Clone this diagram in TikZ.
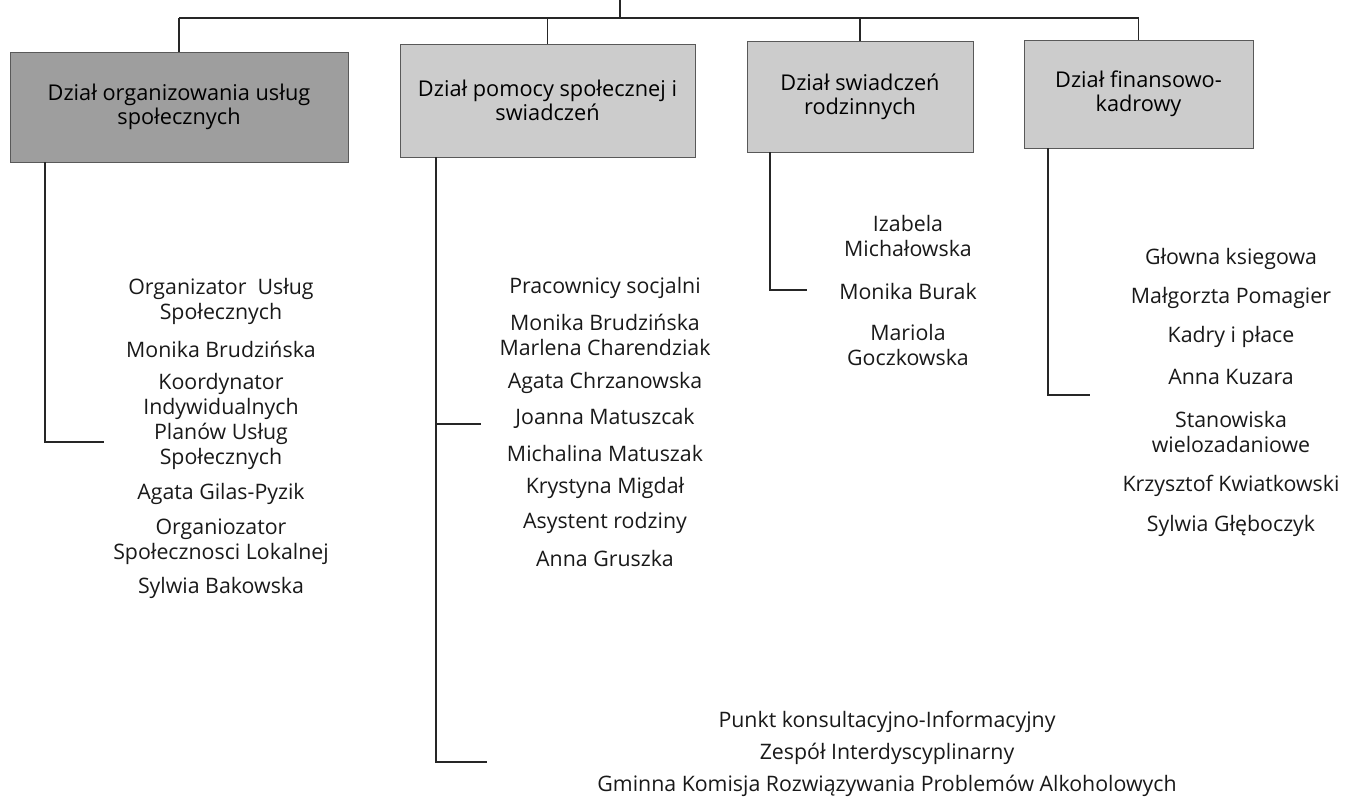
\documentclass[tikz,border=0pt]{standalone}
\usepackage{fontspec}
\setmainfont{Open Sans}
\newdimen\pxu \pxu=0.75pt
\begin{document}
\begin{tikzpicture}[x=0.75pt,y=-0.75pt,
  conn/.style={line width=1.1pt, draw=black!85},
  dept/.style={draw=black!65, line width=0.5pt, align=center, inner sep=0pt,
    font=\fontsize{16.3}{18}\selectfont, text=black},
  item/.style={align=center, inner sep=0pt,
    font=\fontsize{16}{18.75}\selectfont, text=black!90}]
\useasboundingbox (0,0) rectangle (1346,801);
% department boxes
\node[dept, fill=black!38, minimum width=338\pxu, minimum height=110\pxu] (b1) at (179,107) {Dział organizowania usług\\społecznych};
\node[dept, fill=black!20, minimum width=295\pxu, minimum height=113\pxu] (b2) at (547.5,100.5) {Dział pomocy społecznej i\\swiadczeń};
\node[dept, fill=black!20, minimum width=226\pxu, minimum height=111\pxu] (b3) at (860,96.5) {Dział swiadczeń\\rodzinnych};
\node[dept, fill=black!20, minimum width=229\pxu, minimum height=108\pxu] (b4) at (1138.5,94) {Dział finansowo-\\kadrowy};
% top connectors
\coordinate (t0) at (620,0);
\coordinate (t1) at (620,18);
\draw[conn] (t0) -- (t1);
\draw[conn] (b1.north |- t1) -- (b4.north |- t1);
\foreach \b in {b1,b2,b3,b4} \draw[conn] (\b.north |- t1) -- (\b.north);
% column connectors
\coordinate (c1) at (45,442); \coordinate (e1) at (104,442);
\draw[conn] (b1.south -| c1) -- (c1) -- (e1);
\coordinate (c2a) at (436,424); \coordinate (e2a) at (481,424);
\coordinate (c2b) at (436,762); \coordinate (e2b) at (487,762);
\draw[conn] (b2.south -| c2b) -- (c2b) -- (e2b);
\draw[conn] (c2a) -- (e2a);
\coordinate (c3) at (770,290); \coordinate (e3) at (807,290);
\draw[conn] (b3.south -| c3) -- (c3) -- (e3);
\coordinate (c4) at (1048,395); \coordinate (e4) at (1090,395);
\draw[conn] (b4.south -| c4) -- (c4) -- (e4);
% column 1
\node[item] (i11) at (221,301) {Organizator\ \ Usług\\Społecznych};
\node[item] (i12) at (221,349) {Monika Brudzińska};
\node[item] (i13) at (221,421) {Koordynator\\Indywidualnych\\Planów Usług\\Społecznych};
\node[item] (i14) at (221,494) {Agata Gilas-Pyzik};
\node[item] (i15) at (221,541.5) {Organiozator\\Społecznosci Lokalnej};
\node[item] (i16) at (221,588) {Sylwia Bakowska};
% column 2
\node[item] (i21) at (605,288) {Pracownicy socjalni};
\node[item] (i22) at (605,335) {Monika Brudzińska\\Marlena Charendziak};
\node[item] (i23) at (605,383) {Agata Chrzanowska};
\node[item] (i24) at (605,418) {Joanna Matuszcak};
\node[item] (i25) at (605,453) {Michalina Matuszak};
\node[item] (i26) at (605,488) {Krystyna Migdał};
\node[item] (i27) at (605,523) {Asystent rodziny};
\node[item] (i28) at (605,558) {Anna Gruszka};
% column 3
\node[item] (i31) at (908,236) {Izabela\\Michałowska};
\node[item] (i32) at (908,291) {Monika Burak};
\node[item] (i33) at (908,345) {Mariola\\Goczkowska};
% column 4
\node[item] (i41) at (1231,259) {Głowna ksiegowa};
\node[item] (i42) at (1231,298) {Małgorzta Pomagier};
\node[item] (i43) at (1231,337) {Kadry i płace};
\node[item] (i44) at (1231,377) {Anna Kuzara};
\node[item] (i45) at (1231,431.5) {Stanowiska\\wielozadaniowe};
\node[item] (i46) at (1231,486) {Krzysztof Kwiatkowski};
\node[item] (i47) at (1231,526) {Sylwia Głęboczyk};
% bottom group
\node[item] (i51) at (887,722) {Punkt konsultacyjno-Informacyjny};
\node[item] (i52) at (887,754) {Zespół Interdyscyplinarny};
\node[item] (i53) at (887,786) {Gminna Komisja Rozwiązywania Problemów Alkoholowych};
\end{tikzpicture}
\end{document}
